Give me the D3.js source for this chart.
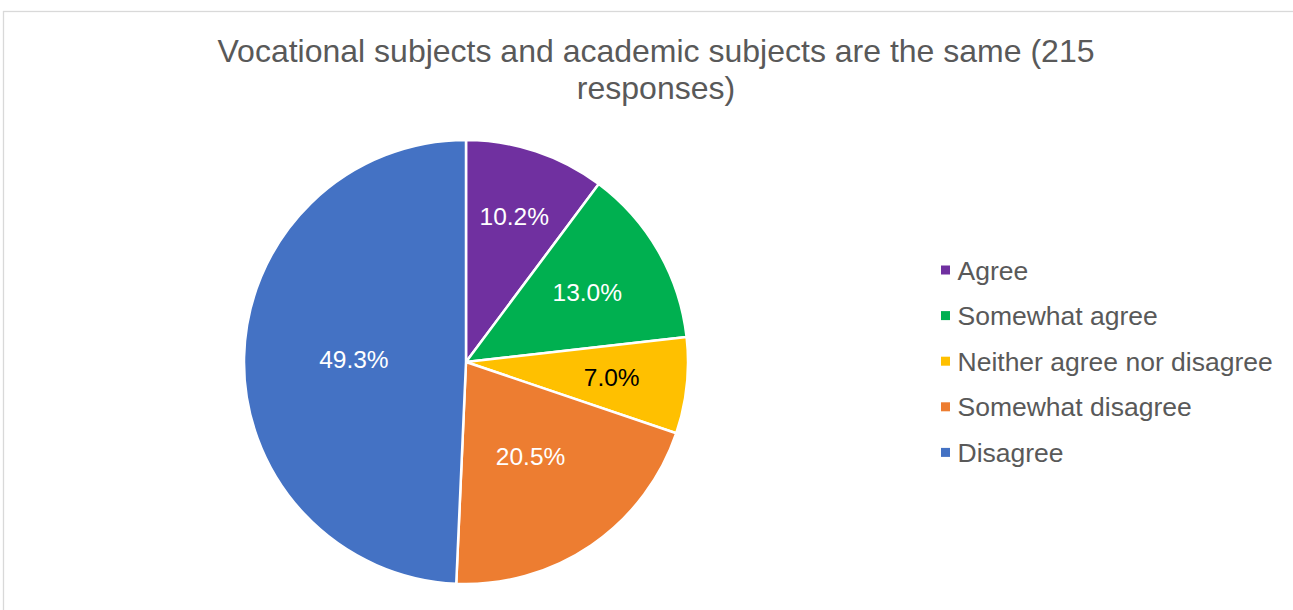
<!DOCTYPE html>
<html>
<head>
<meta charset="utf-8">
<script src="https://cdn.jsdelivr.net/npm/d3@7"></script>
<style>
  html, body { margin: 0; padding: 0; background: #fff; }
  svg { display: block; font-family: "Liberation Sans", Arial, sans-serif; }
</style>
</head>
<body>
<svg id="chart" width="1293" height="610"></svg>
<script>
// Survey responses, in clockwise order from 12 o'clock
const categories = ["Agree", "Somewhat agree", "Neither agree nor disagree", "Somewhat disagree", "Disagree"];
const values = [10.2, 13.0, 7.0, 20.5, 49.3];
const colors = ["#7030A0", "#00B050", "#FFC000", "#ED7D31", "#4472C4"];
const labelColors = ["#fff", "#fff", "#000", "#fff", "#fff"];
const titleLines = ["Vocational subjects and academic subjects are the same (215", "responses)"];

// layout: how far out (fraction of radius) each data label sits
const labelRadiusFrac = [0.69, 0.63, 0.66, 0.515, 0.505];

const svg = d3.select("#chart");
const W = 1293, H = 610;

// chart area frame
svg.append("rect")
  .attr("x", 3.5).attr("y", 11.5)
  .attr("width", W + 10).attr("height", H + 10)
  .attr("fill", "#fff").attr("stroke", "#D9D9D9").attr("stroke-width", 1.3);

// title
svg.append("g").selectAll("text")
  .data(titleLines).join("text")
  .attr("x", 656)
  .attr("y", (d, i) => 62 + i * 37)
  .attr("text-anchor", "middle")
  .attr("fill", "#595959")
  .attr("font-size", 32)
  .text(d => d);

// pie
const cx = 466, cy = 362, R = 222;
const pie = d3.pie().sort(null).value(d => d.value);
const data = pie(categories.map((c, i) => ({ name: c, value: values[i], i })));
const arc = d3.arc().innerRadius(0).outerRadius(R);

const g = svg.append("g").attr("transform", `translate(${cx},${cy})`);
g.selectAll("path")
  .data(data).join("path")
  .attr("d", arc)
  .attr("fill", d => colors[d.data.i])
  .attr("stroke", "#fff")
  .attr("stroke-width", 2.5)
  .attr("stroke-linejoin", "round");

g.selectAll("text.lbl")
  .data(data).join("text")
  .attr("class", "lbl")
  .attr("transform", d => {
    const r = R * labelRadiusFrac[d.data.i];
    const la = d3.arc().innerRadius(r).outerRadius(r);
    const [x, y] = la.centroid(d);
    return `translate(${x},${y})`;
  })
  .attr("text-anchor", "middle")
  .attr("dy", "0.36em")
  .attr("font-size", 24.5)
  .attr("fill", d => labelColors[d.data.i])
  .text(d => d.data.value.toFixed(1) + "%");

// legend
const legend = svg.append("g").attr("transform", "translate(941,270)");
const item = legend.selectAll("g")
  .data(categories).join("g")
  .attr("transform", (d, i) => `translate(0,${i * 45.6})`);
item.append("rect")
  .attr("x", 0).attr("y", -4.5)
  .attr("width", 9).attr("height", 9)
  .attr("fill", (d, i) => colors[i]);
item.append("text")
  .attr("x", 16.5).attr("y", 0)
  .attr("dy", "0.36em")
  .attr("font-size", 26.5)
  .attr("fill", "#595959")
  .text(d => d);
</script>
</body>
</html>
